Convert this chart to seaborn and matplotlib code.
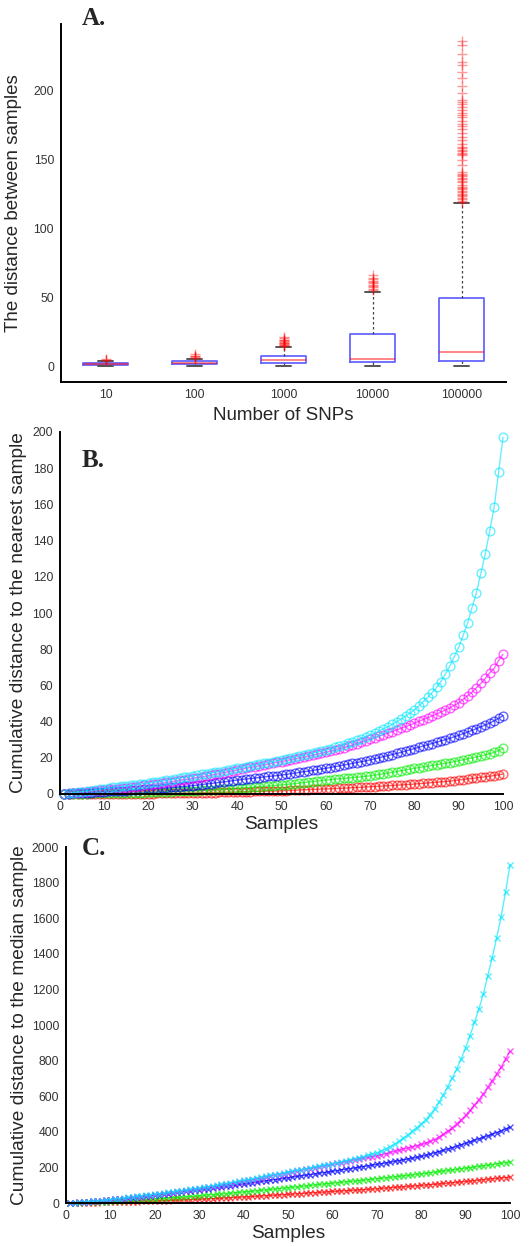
import matplotlib
matplotlib.use("Agg")
import matplotlib.pyplot as plt
import seaborn as sns
import numpy as np
import pandas as pd

# ---------------- Panel A data (box statistics) ----------------
snp_labels = ["10", "100", "1000", "10000", "100000"]
box_q1 = [0.6, 1.2, 2.4, 2.9, 3.4]
box_median = [1.4, 2.2, 4.1, 5.3, 10.1]
box_q3 = [2.2, 3.6, 7.0, 23.4, 49.3]
whisker_low = [0.0, 0.0, 0.0, 0.0, 0.0]
whisker_high = [3.6, 5.3, 13.8, 54.0, 118.4]
outliers_10 = [4.0, 4.5, 5.0]
outliers_100 = [6.0, 6.5, 7.0, 7.5, 8.5]
outliers_1000 = [14.5, 15.0, 15.5, 16.0, 16.5, 17.0, 17.5, 18.0, 18.5, 19.0, 20.0, 21.0]
outliers_10000 = [55, 56, 57, 58, 59, 60, 61, 62, 63, 64, 66]
outliers_100000 = [119, 120, 121, 122, 123, 124, 125, 126, 127, 128, 129, 130, 131,
                   133.5, 134.5, 135.5, 136.5, 137.5, 138.5, 139.5, 140.8,
                   145.6, 149.7, 152.8, 153.8, 154.8, 155.8, 156.8, 157.8, 159.0,
                   161.3, 164.2, 166.1, 169.0, 172.2, 173.9, 175.3, 177.8, 180.2,
                   181.9, 183.6, 185.5, 187.9, 189.8, 191.5, 192.7, 198.1, 202.9,
                   209.2, 213.3, 218.1, 220.6, 226.6, 232.6, 235.8]

# ---------------- Panel B data: cumulative distance to the nearest sample ----------------
samples = list(range(1, 101))
nearest_red = [0.0, 0.0, 0.0, 0.0, 0.0, 0.0, 0.0, 0.1, 0.1, 0.1,
               0.1, 0.1, 0.1, 0.1, 0.1, 0.2, 0.2, 0.2, 0.2, 0.2,
               0.2, 0.3, 0.3, 0.3, 0.4, 0.4, 0.4, 0.5, 0.5, 0.6,
               0.6, 0.7, 0.7, 0.8, 0.8, 0.9, 0.9, 1.0, 1.0, 1.1,
               1.2, 1.2, 1.3, 1.4, 1.4, 1.5, 1.6, 1.6, 1.7, 1.8,
               1.9, 2.0, 2.1, 2.2, 2.3, 2.4, 2.5, 2.6, 2.7, 2.8,
               2.9, 3.0, 3.1, 3.2, 3.3, 3.5, 3.6, 3.7, 3.9, 4.0,
               4.1, 4.3, 4.4, 4.6, 4.7, 4.9, 5.0, 5.2, 5.3, 5.5,
               5.7, 5.9, 6.1, 6.3, 6.5, 6.7, 6.9, 7.1, 7.4, 7.7,
               8.0, 8.3, 8.6, 8.9, 9.2, 9.5, 9.8, 10.2, 10.6, 11.0]
nearest_green = [0.0, 0.0, 0.1, 0.1, 0.2, 0.2, 0.3, 0.3, 0.4, 0.4,
                 0.4, 0.5, 0.5, 0.6, 0.6, 0.7, 0.7, 0.8, 0.8, 0.9,
                 1.0, 1.1, 1.1, 1.2, 1.3, 1.4, 1.5, 1.6, 1.7, 1.8,
                 1.9, 2.0, 2.1, 2.3, 2.4, 2.5, 2.6, 2.8, 2.9, 3.1,
                 3.3, 3.5, 3.6, 3.8, 4.0, 4.2, 4.4, 4.6, 4.8, 5.0,
                 5.2, 5.5, 5.7, 6.0, 6.3, 6.6, 6.8, 7.1, 7.4, 7.7,
                 7.9, 8.2, 8.4, 8.6, 8.8, 9.1, 9.3, 9.5, 9.8, 10.0,
                 10.4, 10.8, 11.2, 11.6, 12.0, 12.4, 12.8, 13.3, 13.7, 14.2,
                 14.6, 15.0, 15.4, 15.8, 16.2, 16.6, 17.0, 17.4, 17.9, 18.4,
                 18.9, 19.4, 19.9, 20.4, 21.0, 21.6, 22.3, 23.0, 24.0, 25.2]
nearest_blue = [0.1, 0.2, 0.3, 0.4, 0.6, 0.7, 0.8, 1.0, 1.1, 1.3,
                1.4, 1.5, 1.6, 1.8, 1.9, 2.0, 2.2, 2.3, 2.5, 2.6,
                2.8, 3.0, 3.2, 3.4, 3.6, 3.8, 4.0, 4.2, 4.4, 4.6,
                4.9, 5.2, 5.5, 5.8, 6.1, 6.4, 6.7, 7.0, 7.4, 7.7,
                8.0, 8.3, 8.5, 8.8, 9.1, 9.4, 9.7, 9.9, 10.2, 10.5,
                10.8, 11.2, 11.5, 11.9, 12.3, 12.6, 13.0, 13.4, 13.8, 14.2,
                14.6, 15.1, 15.5, 16.0, 16.4, 16.9, 17.4, 17.8, 18.3, 18.8,
                19.4, 20.0, 20.6, 21.2, 21.8, 22.4, 23.0, 23.7, 24.4, 25.1,
                25.8, 26.5, 27.2, 27.9, 28.6, 29.3, 30.0, 30.8, 31.6, 32.4,
                33.3, 34.2, 35.1, 36.1, 37.1, 38.1, 39.2, 40.4, 41.8, 43.3]
nearest_magenta = [0.1, 0.3, 0.5, 0.8, 1.0, 1.3, 1.5, 1.8, 2.0, 2.3,
                   2.5, 2.8, 3.0, 3.3, 3.5, 3.8, 4.1, 4.4, 4.7, 5.0,
                   5.3, 5.7, 6.0, 6.4, 6.7, 7.1, 7.5, 7.9, 8.3, 8.7,
                   9.1, 9.5, 9.9, 10.4, 10.8, 11.3, 11.8, 12.3, 12.8, 13.3,
                   13.8, 14.2, 14.7, 15.1, 15.6, 16.1, 16.5, 17.0, 17.5, 17.9,
                   18.4, 18.9, 19.4, 19.9, 20.4, 20.9, 21.4, 21.9, 22.5, 23.1,
                   23.7, 24.3, 25.0, 25.6, 26.3, 27.0, 27.8, 28.6, 29.5, 30.4,
                   31.2, 32.0, 32.8, 33.6, 34.5, 35.4, 36.3, 37.2, 38.1, 39.1,
                   40.1, 41.1, 42.1, 43.1, 44.2, 45.3, 46.4, 47.6, 48.9, 50.3,
                   52.3, 54.3, 56.2, 58.7, 61.1, 63.9, 67.0, 69.4, 73.7, 77.2]
nearest_cyan = [0.1, 0.4, 0.7, 1.0, 1.3, 1.6, 1.9, 2.2, 2.6, 3.0,
                3.3, 3.6, 3.9, 4.2, 4.5, 4.8, 5.1, 5.4, 5.7, 6.0,
                6.4, 6.8, 7.2, 7.6, 8.0, 8.4, 8.8, 9.2, 9.6, 10.0,
                10.4, 10.8, 11.2, 11.6, 12.0, 12.4, 12.8, 13.3, 13.8, 14.2,
                14.6, 15.0, 15.5, 16.0, 16.4, 16.9, 17.4, 17.9, 18.4, 18.9,
                19.4, 19.9, 20.4, 20.9, 21.4, 21.9, 22.5, 23.1, 23.7, 24.3,
                25.0, 25.7, 26.4, 27.2, 28.0, 28.8, 29.7, 30.6, 31.6, 32.6,
                33.7, 34.8, 36.0, 37.2, 38.5, 39.9, 41.4, 43.0, 44.7, 46.5,
                48.6, 51.0, 53.4, 56.0, 58.9, 62.1, 66.3, 70.7, 75.9, 81.0,
                87.7, 94.3, 102.9, 111.2, 121.9, 132.6, 145.3, 158.4, 177.7, 197.0]

# ---------------- Panel C data: cumulative distance to the median sample ----------------
median_red = [0, 0, 1, 1, 1, 2, 2, 3, 3, 4,
              4, 5, 6, 6, 7, 8, 9, 9, 10, 11,
              12, 13, 14, 15, 16, 17, 18, 19, 20, 21,
              22, 24, 25, 26, 27, 29, 30, 31, 33, 34,
              35, 37, 38, 40, 41, 43, 44, 46, 47, 49,
              50, 52, 53, 55, 57, 58, 60, 61, 63, 65,
              66, 68, 69, 71, 72, 74, 75, 77, 78, 80,
              82, 84, 86, 88, 90, 91, 93, 95, 97, 99,
              101, 103, 105, 107, 110, 112, 114, 116, 119, 121,
              123, 126, 128, 131, 133, 136, 138, 141, 143, 146]
median_green = [0, 1, 2, 3, 4, 5, 6, 7, 8, 9,
                10, 12, 13, 15, 16, 18, 19, 21, 22, 24,
                26, 27, 29, 31, 32, 34, 36, 37, 39, 41,
                43, 45, 47, 49, 51, 53, 55, 58, 60, 62,
                64, 67, 69, 71, 74, 76, 79, 81, 84, 86,
                89, 91, 94, 96, 99, 102, 104, 107, 109, 112,
                114, 117, 119, 122, 124, 126, 129, 131, 134, 136,
                139, 142, 144, 147, 150, 153, 155, 158, 161, 164,
                167, 170, 173, 177, 180, 183, 186, 189, 193, 196,
                199, 203, 206, 209, 213, 216, 220, 223, 227, 230]
median_blue = [0, 2, 4, 6, 8, 10, 12, 14, 16, 19,
               21, 23, 25, 28, 30, 32, 35, 37, 40, 43,
               46, 49, 52, 56, 59, 62, 65, 68, 72, 75,
               78, 81, 85, 88, 91, 95, 98, 101, 105, 108,
               111, 115, 118, 122, 125, 128, 132, 135, 139, 142,
               146, 149, 153, 156, 160, 163, 167, 171, 174, 178,
               182, 186, 190, 193, 197, 201, 205, 209, 213, 217,
               221, 225, 229, 234, 238, 243, 247, 252, 257, 262,
               268, 275, 282, 289, 296, 303, 311, 319, 327, 336,
               344, 352, 361, 369, 378, 387, 396, 406, 416, 426]
median_magenta = [0, 2, 3, 5, 7, 9, 11, 13, 15, 17,
                  20, 23, 25, 28, 31, 34, 36, 39, 42, 45,
                  48, 51, 55, 58, 62, 65, 69, 72, 76, 80,
                  84, 88, 92, 96, 101, 105, 109, 114, 118, 123,
                  128, 132, 137, 141, 146, 151, 156, 160, 165, 170,
                  175, 179, 184, 189, 193, 198, 203, 208, 212, 217,
                  222, 227, 232, 237, 243, 247, 252, 256, 261, 265,
                  271, 277, 284, 290, 297, 304, 310, 316, 322, 329,
                  336, 346, 355, 370, 385, 404, 422, 445, 467, 492,
                  520, 551, 581, 613, 650, 688, 725, 763, 809, 852]
median_cyan = [0, 2, 4, 6, 8, 10, 12, 14, 16, 19,
               22, 25, 28, 31, 34, 37, 40, 43, 46, 49,
               52, 55, 59, 62, 66, 69, 73, 76, 80, 84,
               88, 92, 96, 101, 105, 109, 114, 118, 123, 127,
               132, 136, 141, 146, 150, 155, 160, 164, 169, 174,
               179, 183, 188, 193, 197, 202, 207, 211, 216, 221,
               226, 232, 237, 243, 249, 255, 261, 268, 275, 282,
               292, 304, 317, 331, 347, 364, 382, 402, 423, 445,
               467, 497, 529, 566, 609, 654, 703, 753, 809, 871,
               940, 1015, 1090, 1174, 1277, 1379, 1491, 1607, 1748, 1899]

series_colors = ["#ff0000", "#00ee00", "#0000ff", "#ff00ff", "#00e5ff"]

# ---------------- Style ----------------
sns.set_style("white")
plt.rcParams["font.family"] = ["Liberation Sans", "DejaVu Sans"]
plt.rcParams["axes.linewidth"] = 1.2

W, H = 532, 1247
fig = plt.figure(figsize=(W / 100, H / 100), dpi=100)


def px_axes(left, top, right, bottom):
    return fig.add_axes([left / W, 1 - bottom / H, (right - left) / W, (bottom - top) / H])


tick_kw = dict(direction="in", length=3, width=1.2, labelsize=8.8, labelcolor="#333333", color="black")


def style_axes(ax):
    sns.despine(ax=ax)
    for s in ("left", "bottom"):
        ax.spines[s].set_color("black")
        ax.spines[s].set_linewidth(1.4)
    ax.tick_params(axis="both", pad=5, **tick_kw)


# ---------------- Panel A ----------------
axA = px_axes(61, 24, 506, 382)
outlier_lists = [outliers_10, outliers_100, outliers_1000, outliers_10000, outliers_100000]
stats = []
for i, lab in enumerate(snp_labels):
    stats.append(dict(label=lab, q1=box_q1[i], med=box_median[i], q3=box_q3[i],
                      whislo=whisker_low[i], whishi=whisker_high[i], fliers=outlier_lists[i]))
axA.bxp(stats, positions=[1, 2, 3, 4, 5], widths=0.5, capwidths=0.17,
        boxprops=dict(color="#0000ff", alpha=0.6, linewidth=1.3),
        medianprops=dict(color="#ff0000", alpha=0.6, linewidth=1.1),
        whiskerprops=dict(color="#444444", linestyle=(0, (2, 2)), linewidth=0.9),
        capprops=dict(color="#555555", linewidth=1.4),
        flierprops=dict(marker="+", markeredgecolor="#ff0000", markersize=7,
                        markeredgewidth=1.0, alpha=0.4, linestyle="none"))
axA.set_xlim(0.5, 5.5)
axA.set_ylim(-11.6, 248)
axA.set_yticks([0, 50, 100, 150, 200])
axA.set_xticks([1, 2, 3, 4, 5])
axA.set_xticklabels(snp_labels)
style_axes(axA)
axA.set_ylabel("The distance between samples", fontsize=13.5, labelpad=8)
axA.set_xlabel("Number of SNPs", fontsize=13.5, labelpad=4)

# ---------------- Panel B ----------------
axB = px_axes(60, 432, 503, 794)
b_series = [nearest_red, nearest_green, nearest_blue, nearest_magenta, nearest_cyan]
for vals, col in zip(b_series, series_colors):
    sns.lineplot(x=samples, y=vals, ax=axB, color=col, alpha=0.6, linewidth=1.0,
                 marker="o", markersize=6.3, markerfacecolor="none",
                 markeredgecolor=col, markeredgewidth=1.0, clip_on=False)
axB.set_xlim(0, 100)
axB.set_ylim(0, 200)
axB.set_xticks(range(0, 101, 10))
axB.set_yticks(range(0, 201, 20))
style_axes(axB)
axB.set_ylabel("Cumulative distance to the nearest sample", fontsize=13.8, labelpad=4)
axB.set_xlabel("Samples", fontsize=13.8, labelpad=2)

# ---------------- Panel C ----------------
axC = px_axes(66, 847, 510, 1203)
c_series = [median_red, median_green, median_blue, median_magenta, median_cyan]
for vals, col in zip(c_series, series_colors):
    sns.lineplot(x=samples, y=vals, ax=axC, color=col, alpha=0.65, linewidth=1.0,
                 marker="x", markersize=5.0, markeredgecolor=col,
                 markeredgewidth=1.0, clip_on=False)
axC.set_xlim(0, 100)
axC.set_ylim(0, 2000)
axC.set_xticks(range(0, 101, 10))
axC.set_yticks(range(0, 2001, 200))
style_axes(axC)
axC.set_ylabel("Cumulative distance to the median sample", fontsize=13.8, labelpad=3)
axC.set_xlabel("Samples", fontsize=13.8, labelpad=2)

# ---------------- Panel letters ----------------
for letter, ypix in (("A.", 25), ("B.", 467), ("C.", 855)):
    fig.text(82 / W, 1 - ypix / H, letter, fontsize=18, fontweight="bold",
             family=["Liberation Serif", "DejaVu Serif"], ha="left", va="baseline")

fig.savefig("out.png", dpi=100, facecolor="white")
